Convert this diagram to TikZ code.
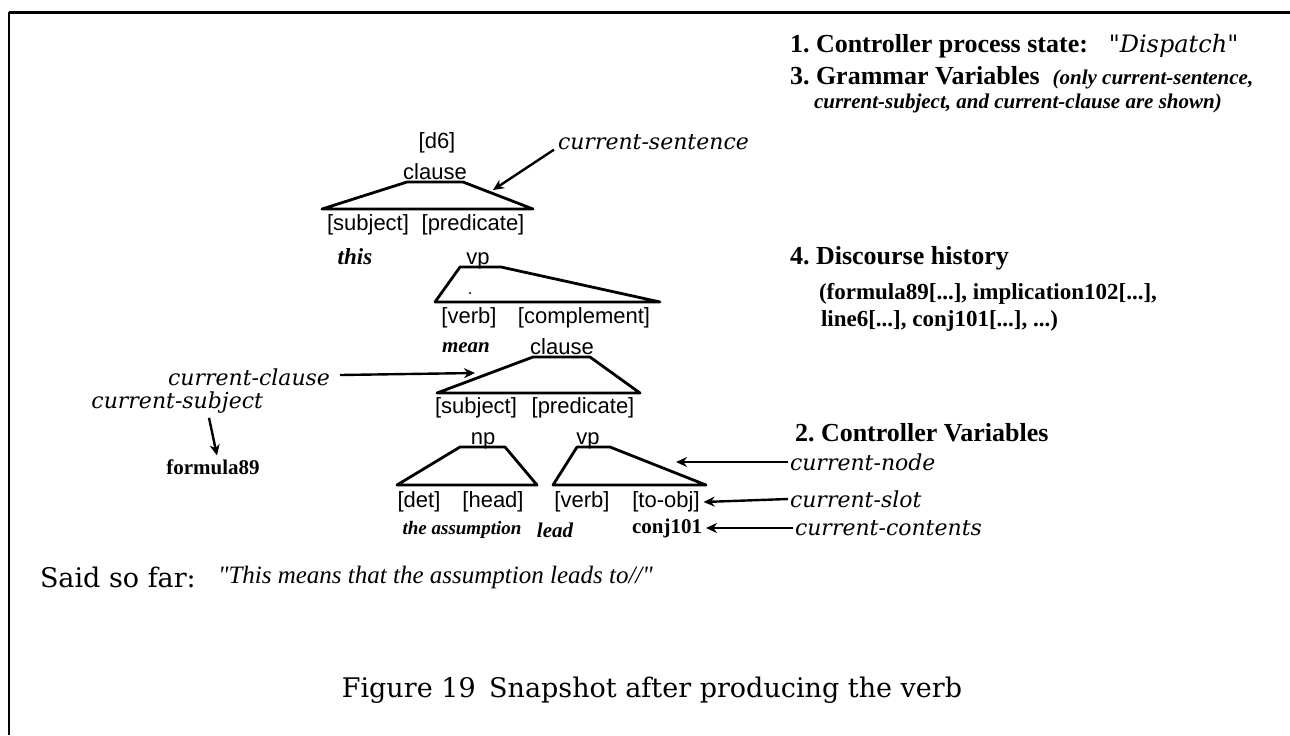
\documentclass[tikz,border=0pt]{standalone}
\usepackage{fontspec}
\setmainfont{Liberation Serif}
\setsansfont{Liberation Sans}
\newfontfamily\wideserif{DejaVu Serif}
\newfontfamily\quoteserif{Liberation Serif}
\usetikzlibrary{arrows.meta}
\frenchspacing
\begin{document}
\begin{tikzpicture}[x=0.5pt,y=-0.5pt,
  every node/.style={inner sep=0pt, outer sep=0pt},
  slot/.style={font=\sffamily\fontsize{11}{13}\selectfont},
  word/.style={font=\bfseries\itshape\fontsize{10.5}{12}\selectfont},
  val/.style={font=\bfseries\fontsize{10.5}{12}\selectfont},
  var/.style={font=\wideserif\itshape\fontsize{11}{13}\selectfont},
  head/.style={font=\bfseries\fontsize{13}{15}\selectfont, anchor=west},
  note/.style={font=\bfseries\itshape\fontsize{10.5}{12}\selectfont, anchor=west},
  hist/.style={font=\bfseries\fontsize{11.5}{13}\selectfont, anchor=west},
  tree/.style={line width=1.4pt, line join=round, line cap=round},
  ptr/.style={line width=1.2pt, -{Stealth[length=5.5pt,width=5pt]}},
  rule/.style={line width=1pt},
]
\useasboundingbox (0,0) rectangle (1290,735);

% frame (top and left rule)
\draw[rule] (9,735) -- (9,12);
\draw[rule, line width=1.5pt] (9,12) -- (1290,12);

% ---- state panel
\node[head] (st) at (790,46) {1. Controller process state:\hspace{0.8em}{\wideserif\itshape\mdseries\fontsize{12}{14}\selectfont "Dispatch"}};
\node[head] (gv) at (790,78) {3. Grammar Variables\hspace{0.5em}{\itshape\fontsize{10.5}{12}\selectfont (only current-sentence,}};
\node[note] (gv2) at (814,103) {current-subject, and current-clause are shown)};
\node[head] (dh) at (790,258) {4. Discourse history};
\node[hist] (h1) at (819,294) {(formula89[...], implication102[...],};
\node[hist] (h2) at (821,321) {line6[...], conj101[...], ...)};
\node[head] (cv) at (795,433) {2. Controller Variables};

% ---- top clause
\node[slot] (d6) at (437,143) {[d6]};
\node[slot, anchor=base] (cl1) at (435,179) {clause};
\draw[tree] (322,209) -- (407,182) -- (463,182) -- (533,209) -- cycle;
\node[slot] (s1) at (368,225) {[subject]};
\node[slot] (p1) at (473,225) {[predicate]};
\node[word, font=\bfseries\itshape\fontsize{11.5}{13}\selectfont] (w1) at (355,257) {this};

% ---- vp under predicate
\node[slot, anchor=base] (vp1) at (478,264) {vp};
\draw[tree] (435,302) -- (460,267) -- (501,267) -- (660,302) -- cycle;
\fill (470,293) circle (1.2);
\node[slot] (v1) at (469,318) {[verb]};
\node[slot] (c1) at (584,318) {[complement]};
\node[word] (w2) at (466,348) {mean};

% ---- embedded clause
\node[slot, anchor=base] (cl2) at (562,354) {clause};
\draw[tree] (437,393) -- (533,357) -- (590,357) -- (640,393) -- cycle;
\node[slot] (s2) at (476,408) {[subject]};
\node[slot] (p2) at (583,408) {[predicate]};

% ---- np under subject
\node[slot, anchor=base] (np) at (483,444) {np};
\draw[tree] (397,485) -- (460,447) -- (505,447) -- (537,485) -- cycle;
\node[slot] (det) at (419,502) {[det]};
\node[slot] (hd) at (493,502) {[head]};
\node[word, font=\bfseries\itshape\fontsize{9.5}{11}\selectfont] (w3) at (462,530) {the assumption};

% ---- vp under predicate
\node[slot, anchor=base] (vp2) at (588,444) {vp};
\draw[tree] (553,485) -- (577,447) -- (610,447) -- (706,485) -- cycle;
\node[slot] (v2) at (582,502) {[verb]};
\node[slot] (to) at (666,502) {[to-obj]};
\node[word] (w4) at (555,530) {lead};
\node[val, anchor=east] (cj) at (702,528) {conj101};

% ---- grammar variables
\node[var, anchor=west] (csent) at (558,142) {current-sentence};
\coordinate (csTip) at (493,190);
\draw[ptr] ([xshift=-2pt]csent.south west) -- (csTip);

\node[var, anchor=east] (cclause) at (330,377) {current-clause};
\coordinate (ccTip) at (475,373);
\draw[ptr] ([xshift=5pt,yshift=1pt]cclause.east) -- (ccTip);

\node[var, anchor=east] (csubj) at (263,403) {current-subject};
\node[val] (f89) at (213,467) {formula89};
\draw[ptr] ([xshift=-2pt,yshift=-2pt]csubj.south -| f89.north) -- ([xshift=2pt,yshift=2pt]f89.north);

% ---- controller variables
\node[var, anchor=west] (cnode) at (790,462) {current-node};
\coordinate (cnTip) at (676,462);
\draw[ptr] ([xshift=-1pt]cnode.west) -- (cnTip);

\node[var, anchor=west] (cslot) at (790,499) {current-slot};
\draw[ptr] ([xshift=-1pt]cslot.west) -- ([xshift=2pt]to.east);

\node[var, anchor=west] (ccont) at (795,528) {current-contents};
\draw[ptr] ([xshift=-1pt]ccont.west) -- ([xshift=2pt]cj.east);

% ---- output so far and caption
\node[anchor=west, font=\wideserif\fontsize{13.5}{16}\selectfont] (said) at (40,577) {Said so far:};
\node[anchor=west, font=\quoteserif\itshape\fontsize{12.5}{15}\selectfont] (quote) at (218,577) {"This means that the assumption leads to//"};
\node[font=\wideserif\fontsize{13.5}{16}\selectfont] (cap) at (652,690) {Figure 19\hspace{0.5em}Snapshot after producing the verb};
\end{tikzpicture}
\end{document}
